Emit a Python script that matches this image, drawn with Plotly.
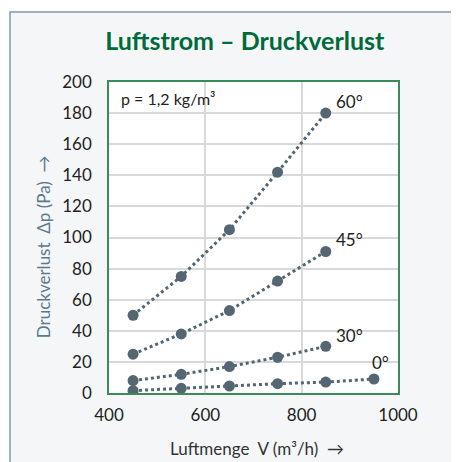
import plotly.graph_objects as go

x_main = [450, 550, 650, 750, 850]
x_zero = [450, 550, 650, 750, 850, 950]
dp_60 = [50, 75, 105, 142, 180]
dp_45 = [25, 38, 53, 72, 91]
dp_30 = [8, 12, 17, 23, 30]
dp_0 = [1.5, 3, 4.5, 6, 7, 9]
series = [("60°", x_main, dp_60), ("45°", x_main, dp_45), ("30°", x_main, dp_30), ("0°", x_zero, dp_0)]

color = "#546672"
font = "Lato, 'Open Sans', sans-serif"

fig = go.Figure()
for name, xs, ys in series:
    fig.add_trace(go.Scatter(x=xs, y=ys, mode="lines+markers", name=name,
                             line=dict(color=color, width=3, dash="dot"),
                             marker=dict(color=color, size=11)))

label_pos = [("60°", 850, 180, 8, 12), ("45°", 850, 91, 8, 12), ("30°", 850, 30, 8, 11), ("0°", 950, 9, -4, 17)]
for txt, xv, yv, dx, dy in label_pos:
    fig.add_annotation(x=xv, y=yv, text=txt, showarrow=False, xanchor="left", yanchor="middle",
                       xshift=dx, yshift=dy, font=dict(size=17, color="#222222", family=font))

fig.add_annotation(x=0.035, y=0.985, xref="paper", yref="paper", text="p = 1,2 kg/m³", showarrow=False,
                   xanchor="left", yanchor="top", font=dict(size=16, color="#222222", family=font))

# axis titles
fig.add_annotation(x=-0.228, y=0.469, xref="paper", yref="paper", text="Druckverlust  Δp (Pa)  →",
                   showarrow=False, textangle=-90, xanchor="center", yanchor="middle",
                   font=dict(size=17, color="#5b7a8e", family=font))
fig.add_annotation(x=0.512, y=-0.177, xref="paper", yref="paper", text="Luftmenge  V (m³/h)  →",
                   showarrow=False, xanchor="center", yanchor="middle",
                   font=dict(size=17, color="#333333", family=font))

# outer frame
fig.add_shape(type="rect", xref="paper", yref="paper", x0=-0.3426, y0=-1, x1=2, y1=1.2251,
              line=dict(color="#8a9aa5", width=1.5), fillcolor="rgba(0,0,0,0)", layer="above")
fig.add_shape(type="rect", xref="paper", yref="paper", x0=-1, y0=-1, x1=-0.347, y1=2,
              line=dict(width=0), fillcolor="white", layer="above")
fig.add_shape(type="rect", xref="paper", yref="paper", x0=-1, y0=1.23, x1=2, y1=2,
              line=dict(width=0), fillcolor="white", layer="above")

fig.update_layout(
    width=451, height=454,
    margin=dict(l=101, r=61, t=74, b=69),
    paper_bgcolor="#f4f6f8", plot_bgcolor="white",
    showlegend=False,
    title=dict(text="<b>Luftstrom – Druckverlust</b>", x=0.525, xanchor="center", y=0.927, yanchor="middle",
               font=dict(size=25, color="#006b3a", family=font)),
    font=dict(family=font, color="#222222"),
)
fig.update_xaxes(range=[400, 1000], tickvals=[400, 600, 800, 1000], showgrid=True, gridcolor="#d9d9d9", gridwidth=2,
                 showline=True, linecolor="#3a8a5a", linewidth=1.5, mirror=True, zeroline=False,
                 tickfont=dict(size=17, color="#222222"), ticks="", ticklabelstandoff=6)
fig.update_yaxes(range=[0, 200], dtick=20, showgrid=True, gridcolor="#d9d9d9", gridwidth=2,
                 showline=True, linecolor="#3a8a5a", linewidth=1.5, mirror=True, zeroline=False,
                 tickfont=dict(size=17, color="#222222"), ticks="", ticklabelstandoff=12)

fig.write_html("out.html")
